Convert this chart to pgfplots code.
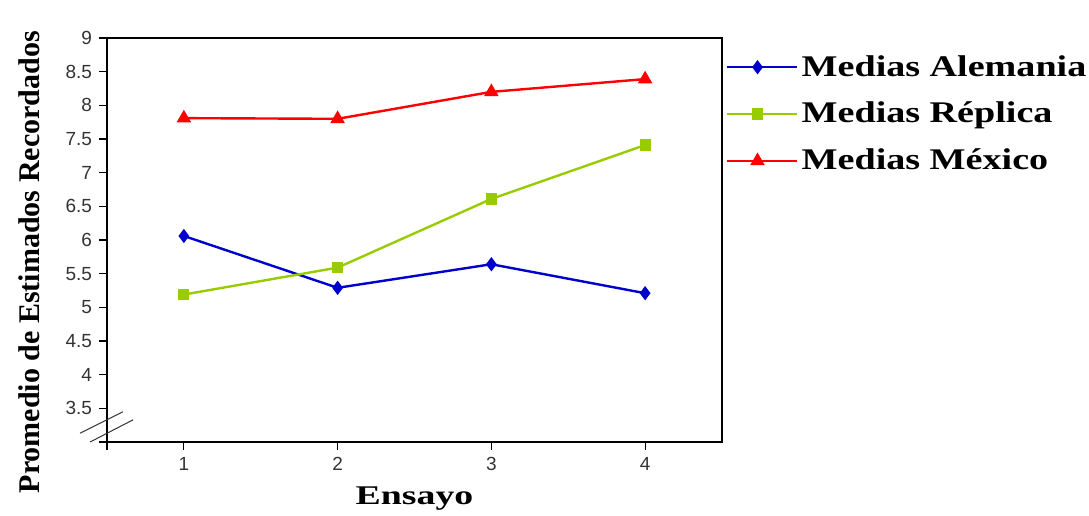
\documentclass[border=0pt]{standalone}
\usepackage{pgfplots}
\pgfplotsset{compat=1.18}
\usepackage{fontspec}
\setmainfont{Liberation Serif}
\newfontfamily\ticksans{Liberation Sans}
\newfontfamily\widefont[FakeStretch=1.27]{Liberation Serif}
\newfontfamily\widerfont[FakeStretch=1.4]{Liberation Serif}
\definecolor{cblue}{HTML}{0000CC}
\definecolor{cgreen}{HTML}{99CC00}
\definecolor{cred}{HTML}{FF0000}
\begin{document}
\begin{tikzpicture}
\useasboundingbox (-53.5pt,-36.5pt) rectangle (491pt,221pt);
\begin{axis}[
  at={(0,0)}, anchor=south west,
  scale only axis,
  width=307.5pt, height=202pt,
  xmin=0.5, xmax=4.5, ymin=3, ymax=9,
  xtick={1,2,3,4},
  ytick={3.5,4,4.5,5,5.5,6,6.5,7,7.5,8,8.5,9},
  extra x ticks={0.5}, extra x tick labels={},
  extra y ticks={3}, extra y tick labels={},
  yticklabel style={/pgf/number format/.cd, fixed, precision=1, assume math mode=true},
  xticklabel style={/pgf/number format/assume math mode=true},
  tick label style={font=\ticksans\fontsize{9.5}{11}\selectfont, color=black!80},
  xtick pos=bottom, ytick pos=left,
  tick align=outside,
  major tick length=4pt,
  axis line style={line width=0.8pt},
  tick style={line width=0.6pt, color=black},
  clip=false,
  xlabel={\widerfont\bfseries Ensayo},
  ylabel={\textbf{Promedio de Estimados Recordados}},
  xlabel style={font=\fontsize{13.5}{15}\selectfont, at={(axis description cs:0.5,-0.14)}, anchor=center},
  ylabel style={font=\fontsize{15}{17}\selectfont, at={(axis description cs:-0.127,0.445)}, anchor=center},
  legend style={at={(axis description cs:0.995,0.978)}, anchor=north west, draw=none, fill=none,
    font=\widefont\bfseries\fontsize{15}{17}\selectfont, row sep=7.5pt,
    legend cell align=left},
  legend image code/.code={
    \path (0pt,0pt) -- (35pt,0pt);
    \draw[#1, mark=none] (0pt,0pt) -- (31pt,0pt);
    \draw[#1, only marks] plot coordinates {(15.5pt,0pt)};
  },
]
\addplot[color=cblue, line width=1.2pt, mark=diamond*, mark size=2.6pt, mark options={solid, fill=cblue}]
  coordinates {(1,6.06) (2,5.29) (3,5.64) (4,5.21)};
\addlegendentry{Medias Alemania}
\addplot[color=cgreen, line width=1.2pt, mark=square*, mark size=2.2pt, mark options={solid, fill=cgreen}]
  coordinates {(1,5.19) (2,5.59) (3,6.61) (4,7.41)};
\addlegendentry{Medias Réplica}
\addplot[color=cred, line width=1.2pt, mark=triangle*, mark size=3pt, mark options={solid, fill=cred}]
  coordinates {(1,7.81) (2,7.8) (3,8.2) (4,8.39)};
\addlegendentry{Medias México}
\draw[black!80, line width=0.5pt] (axis cs:0.325,3.13) -- (axis cs:0.604,3.45);
\draw[black!80, line width=0.5pt] (axis cs:0.39,3.0) -- (axis cs:0.67,3.33);
\end{axis}
\end{tikzpicture}
\end{document}
